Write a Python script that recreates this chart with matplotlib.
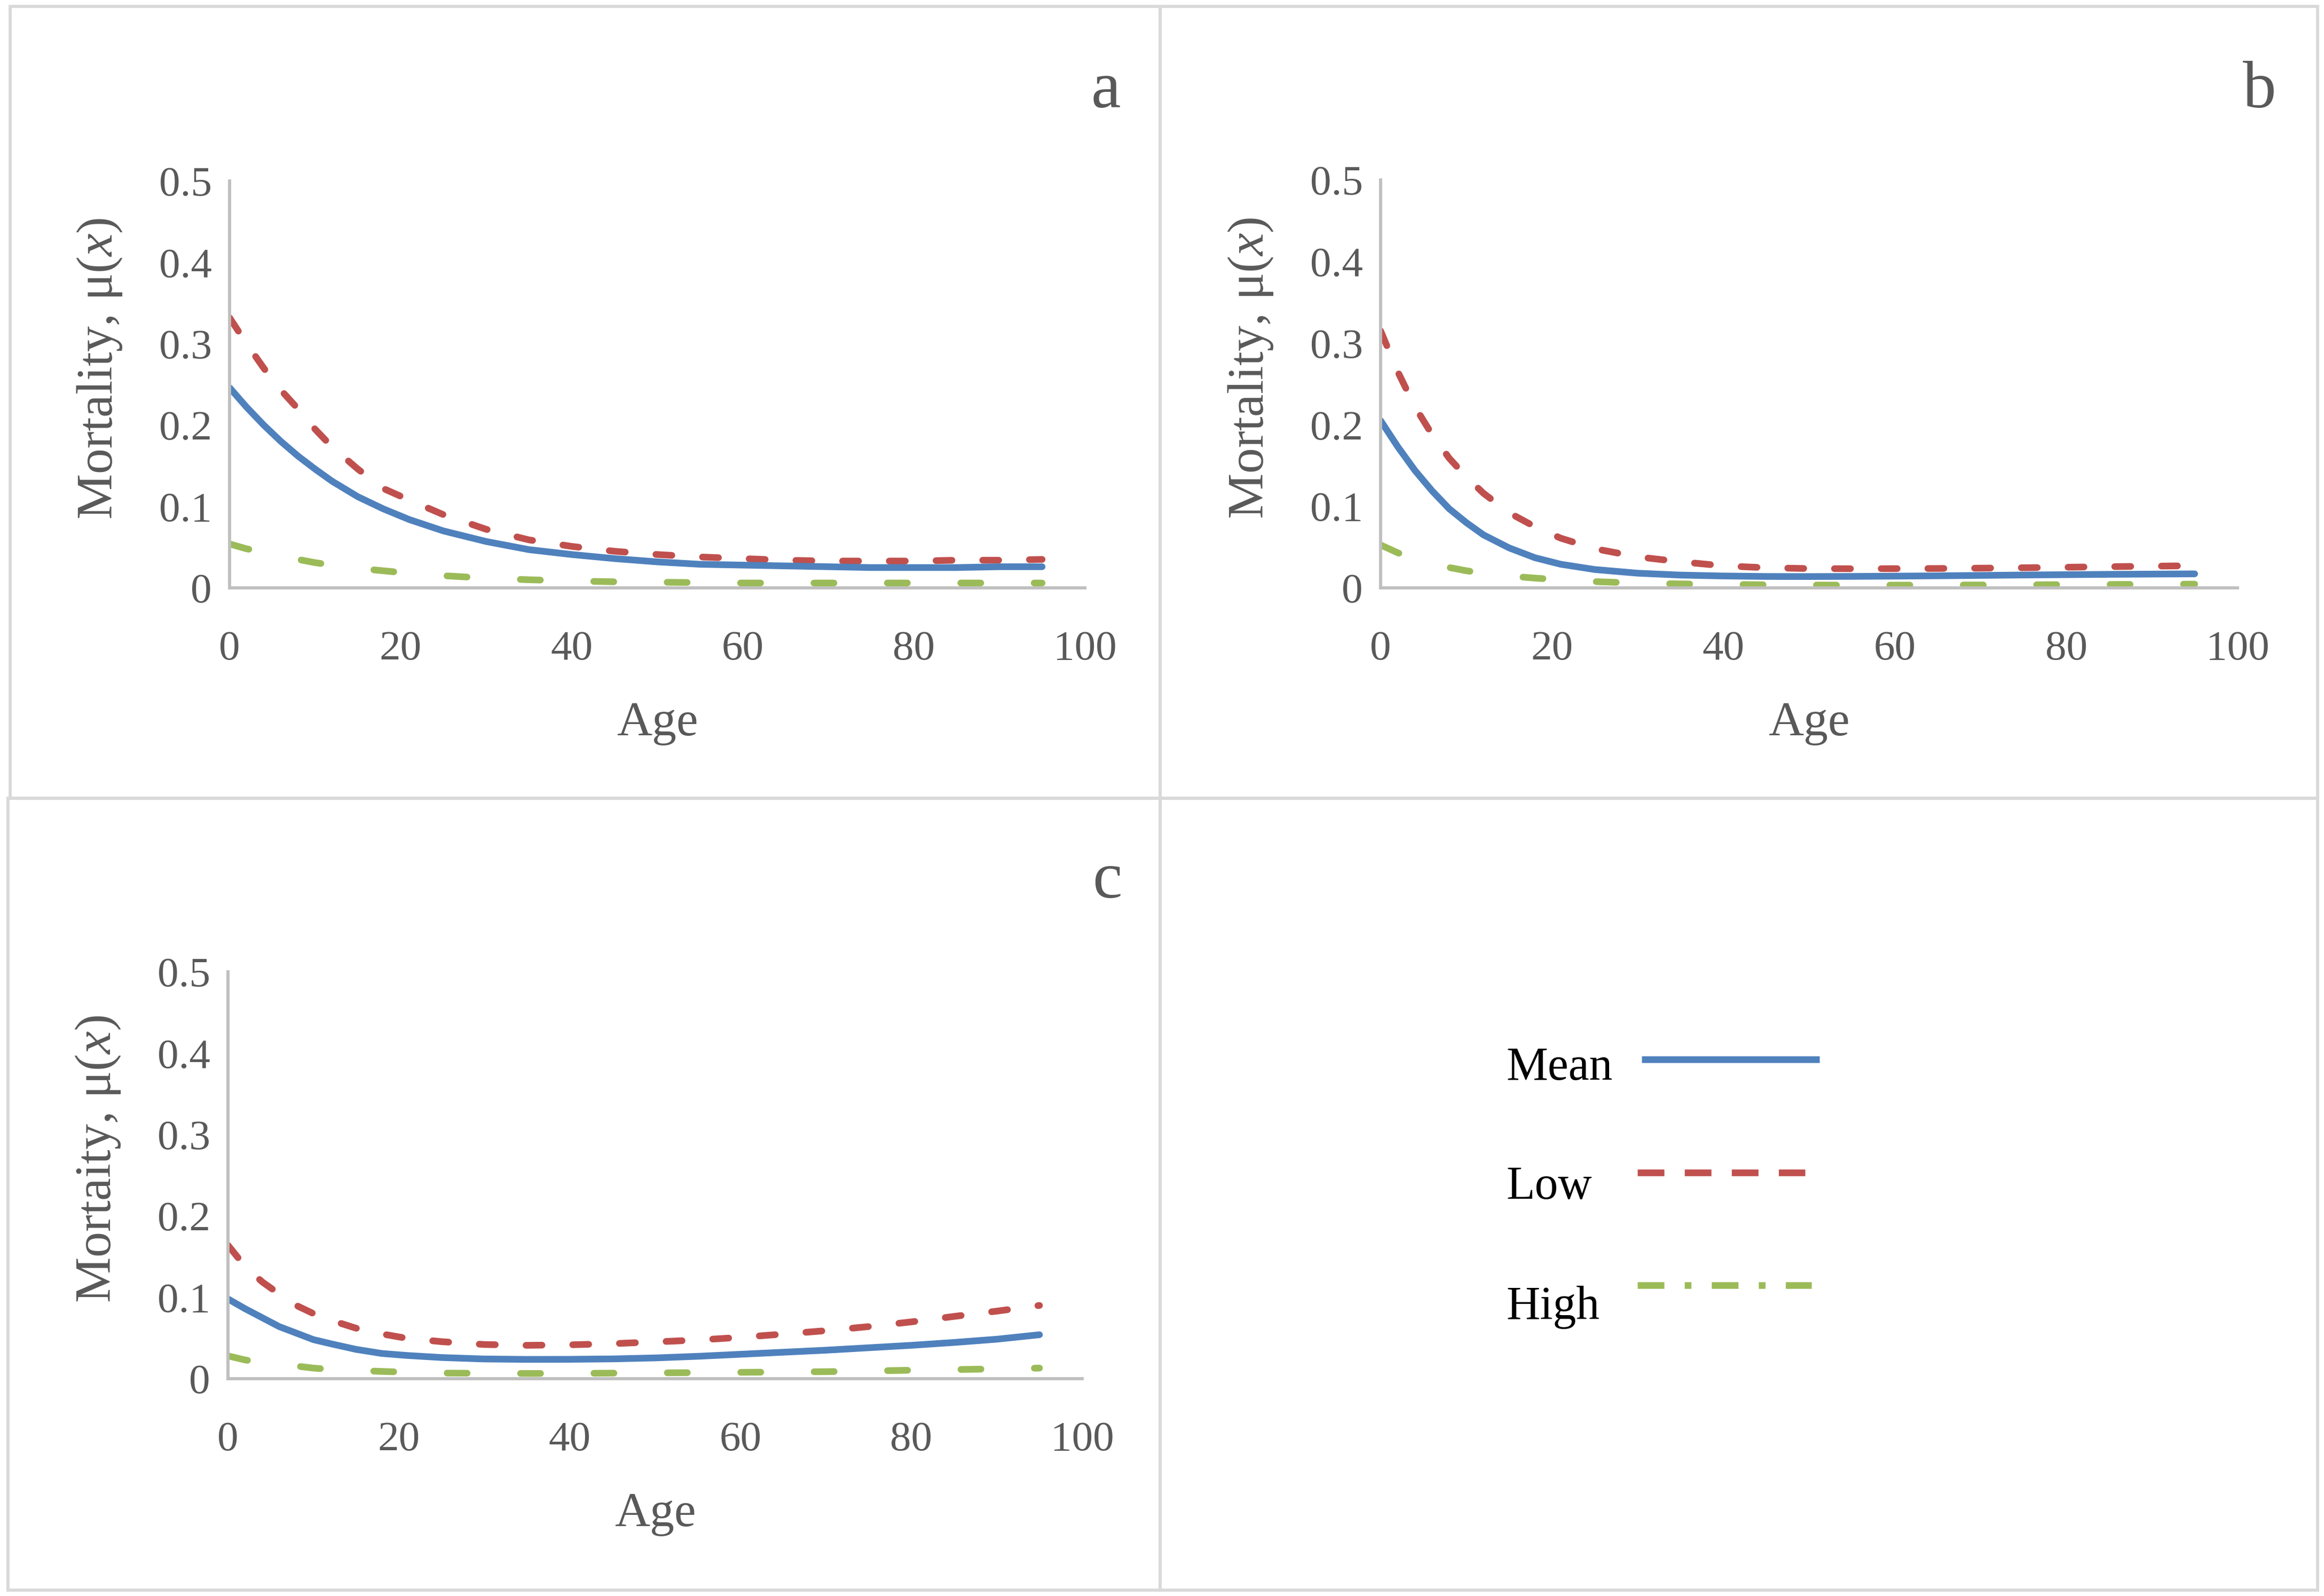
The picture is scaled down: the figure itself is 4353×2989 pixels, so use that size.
import matplotlib
matplotlib.use('Agg')
import matplotlib.pyplot as plt
from matplotlib.lines import Line2D
from matplotlib.patches import Rectangle

ages = [0, 2, 4, 6, 8, 10, 12, 15, 18, 21, 25, 30, 35, 40, 45, 50, 55, 60, 65, 70, 75, 80, 85, 90, 95]

# Panel a
mean_a = [0.246, 0.222, 0.200, 0.180, 0.162, 0.146, 0.131, 0.112, 0.097, 0.084, 0.070, 0.057, 0.047,
          0.041, 0.036, 0.032, 0.029, 0.028, 0.027, 0.026, 0.025, 0.025, 0.025, 0.026, 0.026]
low_a = [0.332, 0.300, 0.270, 0.243, 0.220, 0.195, 0.173, 0.146, 0.122, 0.108, 0.090, 0.072, 0.059,
         0.051, 0.045, 0.041, 0.038, 0.036, 0.034, 0.033, 0.033, 0.033, 0.034, 0.034, 0.035]
high_a = [0.054, 0.048, 0.044, 0.040, 0.035, 0.031, 0.028, 0.024, 0.021, 0.018, 0.015, 0.012, 0.010,
          0.0085, 0.0075, 0.007, 0.0065, 0.006, 0.006, 0.006, 0.006, 0.006, 0.006, 0.006, 0.006]

# Panel b
mean_b = [0.205, 0.173, 0.144, 0.119, 0.097, 0.080, 0.065, 0.049, 0.037, 0.029, 0.0225, 0.018, 0.0157,
          0.0146, 0.0140, 0.0139, 0.0141, 0.0144, 0.0148, 0.0153, 0.0158, 0.0162, 0.0166, 0.0169, 0.0172]
low_b = [0.315, 0.265, 0.222, 0.188, 0.159, 0.136, 0.116, 0.092, 0.075, 0.061, 0.048, 0.038, 0.032,
         0.027, 0.0247, 0.0237, 0.0235, 0.0236, 0.0238, 0.0242, 0.0247, 0.0253, 0.026, 0.0266, 0.0272]
high_b = [0.0526, 0.043, 0.036, 0.030, 0.025, 0.021, 0.018, 0.0145, 0.012, 0.010, 0.0077, 0.0058, 0.0049,
          0.0043, 0.0038, 0.0035, 0.0034, 0.0034, 0.0035, 0.0036, 0.0038, 0.004, 0.0042, 0.0044, 0.0046]

# Panel c
mean_c = [0.098, 0.086, 0.075, 0.064, 0.056, 0.048, 0.043, 0.036, 0.031, 0.0285, 0.026, 0.0242, 0.0237,
          0.0238, 0.0243, 0.0255, 0.0275, 0.030, 0.0325, 0.035, 0.038, 0.041, 0.0445, 0.0485, 0.054]
low_c = [0.164, 0.138, 0.119, 0.104, 0.090, 0.080, 0.072, 0.062, 0.055, 0.0495, 0.0455, 0.042, 0.041,
         0.0416, 0.043, 0.0452, 0.0475, 0.0508, 0.0548, 0.059, 0.064, 0.0698, 0.0765, 0.083, 0.090]
high_c = [0.028, 0.023, 0.020, 0.017, 0.0155, 0.013, 0.0115, 0.0102, 0.0089, 0.008, 0.0069, 0.0066, 0.0064,
          0.0065, 0.0068, 0.0071, 0.0075, 0.0078, 0.0082, 0.0086, 0.0095, 0.0104, 0.0112, 0.012, 0.013]

x_ticks = [0, 20, 40, 60, 80, 100]
y_ticks = [0, 0.1, 0.2, 0.3, 0.4, 0.5]
y_tick_labels = ['0', '0.1', '0.2', '0.3', '0.4', '0.5']
series_names = ['Mean', 'Low', 'High']
panel_letters = ['a', 'b', 'c']
y_titles = [r'Mortality, μ($\mathit{x}$)', r'Mortality, μ($\mathit{x}$)', r'Mortaity, μ($\mathit{x}$)']

# Styles
BLUE, RED, GREEN = '#4F81BD', '#C0504D', '#9BBB59'
GREY_TXT = '#595959'
AXIS_COL = '#BFBFBF'
FRAME_COL = '#D9D9D9'
LW = 3.0

plt.rcParams['font.family'] = ['Liberation Serif', 'DejaVu Serif']
plt.rcParams['mathtext.fontset'] = 'custom'
plt.rcParams['mathtext.rm'] = 'Liberation Serif'
plt.rcParams['mathtext.it'] = 'Liberation Serif:italic'

W, H = 4353, 2989
fig = plt.figure(figsize=(W / 300, H / 300), dpi=300)

def fx(px):
    return px / W

def fy(py):
    return 1 - py / H

# Panel frames (pixel boxes: left, top, right, bottom)
frames = [(19, 12, 2173, 1495), (2173, 12, 4341, 1495), (15, 1495, 2173, 2978), (2173, 1495, 4341, 2978)]
for l, t, r, b in frames:
    fig.add_artist(Rectangle((fx(l), fy(b)), fx(r) - fx(l), fy(t) - fy(b), transform=fig.transFigure,
                             fill=False, edgecolor=FRAME_COL, linewidth=1.4))

# Axes boxes: x of age 0, x of age 100, y of 0, y of 0.5 (pixels)
axes_px = [(430, 2032, 1101, 339), (2586, 4191, 1101, 337), (427, 2027, 2582, 1820)]
panel_data = [(mean_a, low_a, high_a), (mean_b, low_b, high_b), (mean_c, low_c, high_c)]
letter_pos = [(2071, 201), (4232, 201), (2074, 1681)]

for i, (x0, x1, y0, y1) in enumerate(axes_px):
    ax = fig.add_axes([fx(x0), fy(y0), fx(x1) - fx(x0), fy(y1) - fy(y0)])
    mean, low, high = panel_data[i]
    ax.plot(ages, high, color=GREEN, lw=LW, linestyle=(0, (3.0, 8.0)), dash_capstyle='round')
    ax.plot(ages, low, color=RED, lw=LW, linestyle=(0, (2.4, 4.6)), dash_capstyle='round')
    ax.plot(ages, mean, color=BLUE, lw=LW, solid_capstyle='round')

    ax.set_xlim(0, 100)
    ax.set_ylim(0, 0.5)
    ax.set_xticks(x_ticks)
    ax.set_yticks(y_ticks)
    ax.set_yticklabels(y_tick_labels)
    ax.tick_params(length=0, labelsize=19, labelcolor=GREY_TXT)
    ax.tick_params(axis='x', pad=19)
    ax.tick_params(axis='y', pad=8)
    for s in ['top', 'right']:
        ax.spines[s].set_visible(False)
    for s in ['left', 'bottom']:
        ax.spines[s].set_color(AXIS_COL)
        ax.spines[s].set_linewidth(1.4)
    ax.patch.set_alpha(0)

    # axis titles
    fig.text(fx((x0 + x1) / 2), fy(y0 + 276), 'Age', ha='center', va='baseline',
             fontsize=22, color=GREY_TXT)
    fig.text(fx(x0 - 243), fy((y0 + y1) / 2 - 30), y_titles[i], rotation=90, ha='center', va='center',
             fontsize=23, color=GREY_TXT)

    lx, ly = letter_pos[i]
    fig.text(fx(lx), fy(ly), panel_letters[i], ha='center', va='baseline', fontsize=30, color=GREY_TXT)

# Legend in the empty fourth panel
leg_text_y = [2022, 2245, 2470]
leg_line_y = [1984, 2196, 2407]
leg_line_x = [(3075, 3408), (3067, 3381), (3067, 3393)]
leg_styles = ['-', (0, (4.0, 3.05)), (0, (4.0, 3.05, 1.0, 3.05))]
leg_colors = [BLUE, RED, GREEN]
for k, name in enumerate(series_names):
    fig.text(fx(2822), fy(leg_text_y[k]), name, ha='left', va='baseline', fontsize=21, color='black')
    xa, xb = leg_line_x[k]
    fig.add_artist(Line2D([fx(xa), fx(xb)], [fy(leg_line_y[k]), fy(leg_line_y[k])], transform=fig.transFigure,
                          color=leg_colors[k], lw=LW, linestyle=leg_styles[k],
                          dash_capstyle='butt', solid_capstyle='butt'))

fig.savefig('out.png', dpi=300, facecolor='white')
